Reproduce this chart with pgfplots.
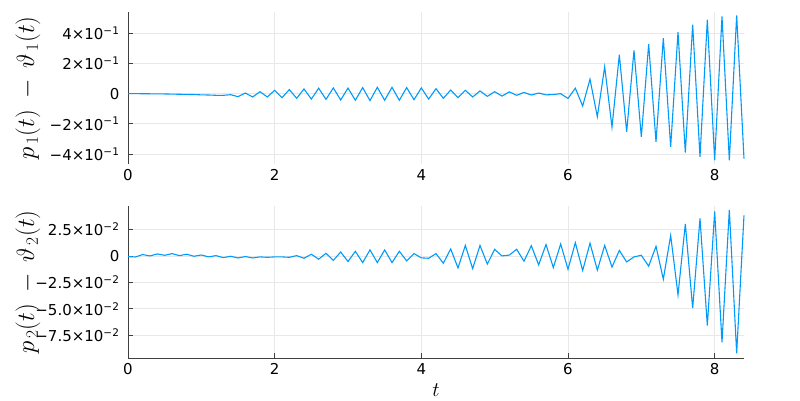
\documentclass[border=0pt]{standalone}
\usepackage{fontspec}
\setmainfont{DejaVu Sans}
\usepackage{pgfplots}
\pgfplotsset{compat=1.18}
\definecolor{jblue}{RGB}{0,154,250}
\begin{document}
\begin{tikzpicture}
\useasboundingbox (0,0) rectangle (800pt,-400pt);
\pgfplotsset{
  common/.style={
    scale only axis, width=616pt, height=152pt,
    xmin=0, xmax=8.4, xtick={0,2,4,6,8}, xticklabels={0,2,4,6,8},
    scaled y ticks=false, scaled x ticks=false,
    grid=major, major grid style={black!9, line width=0.7pt},
    axis lines*=left, axis line style={black!75, line width=1pt},
    tick align=inside, major tick length=5pt, tick style={black!75, line width=0.8pt},
    tick label style={font=\fontsize{15}{18}\selectfont},
    yticklabel style={xshift=-5pt},
    xticklabel style={yshift=-2pt},
    ylabel style={font=\fontsize{24}{28}\selectfont, at={(axis description cs:-0.1623,0.5)}, anchor=center},
    clip=false,
  }
}
\begin{axis}[common, at={(128pt,-164pt)}, anchor=south west,
  ymin=-0.467, ymax=0.542,
  ytick={-0.4,-0.2,0,0.2,0.4},
  yticklabels={−4×10\textsuperscript{−1},−2×10\textsuperscript{−1},0,2×10\textsuperscript{−1},4×10\textsuperscript{−1}},
  x axis line style={draw=none}, xtick style={draw=none},
  ylabel={$p_{\,1}(t) \:-\: \vartheta_{\,1}(t)$}]
\addplot[jblue, line width=1.1pt] table {
t v
0 0
0.1 0
0.2 -0.0005
0.3 -0.001
0.4 -0.0015
0.5 -0.002
0.6 -0.003
0.7 -0.004
0.8 -0.005
0.9 -0.006
1.0 -0.008
1.1 -0.009
1.2 -0.011
1.3 -0.011
1.4 -0.007
1.5 -0.020
1.6 0.004
1.7 -0.022
1.8 0.013
1.9 -0.022
2.0 0.022
2.1 -0.027
2.2 0.027
2.3 -0.031
2.4 0.031
2.5 -0.036
2.6 0.036
2.7 -0.038
2.8 0.038
2.9 -0.042
3.0 0.037
3.1 -0.044
3.2 0.040
3.3 -0.046
3.4 0.042
3.5 -0.044
3.6 0.042
3.7 -0.044
3.8 0.040
3.9 -0.040
4.0 0.038
4.1 -0.036
4.2 0.033
4.3 -0.031
4.4 0.024
4.5 -0.027
4.6 0.022
4.7 -0.022
4.8 0.018
4.9 -0.018
5.0 0.013
5.1 -0.016
5.2 0.012
5.3 -0.011
5.4 0.008
5.5 -0.009
5.6 0.004
5.7 -0.008
5.8 -0.006
5.9 0.000
6.0 -0.032
6.1 0.036
6.2 -0.082
6.3 0.096
6.4 -0.153
6.5 0.178
6.6 -0.222
6.7 0.258
6.8 -0.253
6.9 0.287
7.0 -0.287
7.1 0.329
7.2 -0.320
7.3 0.369
7.4 -0.353
7.5 0.409
7.6 -0.391
7.7 0.458
7.8 -0.420
7.9 0.491
8.0 -0.442
8.1 0.513
8.2 -0.442
8.3 0.520
8.4 -0.431
};
\end{axis}
\begin{axis}[common, at={(128pt,-358pt)}, anchor=south west,
  ymin=-0.0965, ymax=0.0472,
  ytick={-0.075,-0.05,-0.025,0,0.025},
  yticklabels={−7.5×10\textsuperscript{−2},−5.0×10\textsuperscript{−2},−2.5×10\textsuperscript{−2},0,2.5×10\textsuperscript{−2}},
  ylabel={$p_{\,2}(t) \:-\: \vartheta_{\,2}(t)$},
  xlabel={$t$},
  xlabel style={font=\fontsize{22}{26}\selectfont, at={(axis description cs:0.5,-0.211)}, anchor=center}]
\addplot[jblue, line width=1.1pt] table {
t v
0 -0.0006
0.1 -0.001
0.2 0.0013
0.3 0
0.4 0.0019
0.5 0.0006
0.6 0.0022
0.7 0.0003
0.8 0.0016
0.9 -0.0003
1.0 0.0009
1.1 -0.0009
1.2 0.0003
1.3 -0.0016
1.4 -0.0003
1.5 -0.0019
1.6 -0.0006
1.7 -0.0019
1.8 -0.0009
1.9 -0.0013
2.0 -0.0009
2.1 -0.0009
2.2 -0.0013
2.3 0.0003
2.4 -0.0022
2.5 0.0016
2.6 -0.0031
2.7 0.0025
2.8 -0.0042
2.9 0.0037
3.0 -0.0053
3.1 0.0044
3.2 -0.0063
3.3 0.0057
3.4 -0.0063
3.5 0.0057
3.6 -0.0063
3.7 0.0044
3.8 -0.0047
3.9 0.0022
4.0 -0.0018
4.1 -0.0022
4.2 0.0022
4.3 -0.0069
4.4 0.0066
4.5 -0.0113
4.6 0.0099
4.7 -0.012
4.8 0.0099
4.9 -0.0077
5.0 0.0062
5.1 0
5.2 0.0008
5.3 0.0063
5.4 -0.005
5.5 0.0097
5.6 -0.0085
5.7 0.0108
5.8 -0.011
5.9 0.0113
6.0 -0.0126
6.1 0.0125
6.2 -0.0138
6.3 0.012
6.4 -0.0134
6.5 0.0099
6.6 -0.0105
6.7 0.0052
6.8 -0.0057
6.9 -0.0009
7.0 0.0006
7.1 -0.0097
7.2 0.0091
7.3 -0.022
7.4 0.0194
7.5 -0.0368
7.6 0.0303
7.7 -0.0494
7.8 0.0355
7.9 -0.0658
8.0 0.042
8.1 -0.0816
8.2 0.0436
8.3 -0.092
8.4 0.0384
};
\end{axis}
\end{tikzpicture}
\end{document}
